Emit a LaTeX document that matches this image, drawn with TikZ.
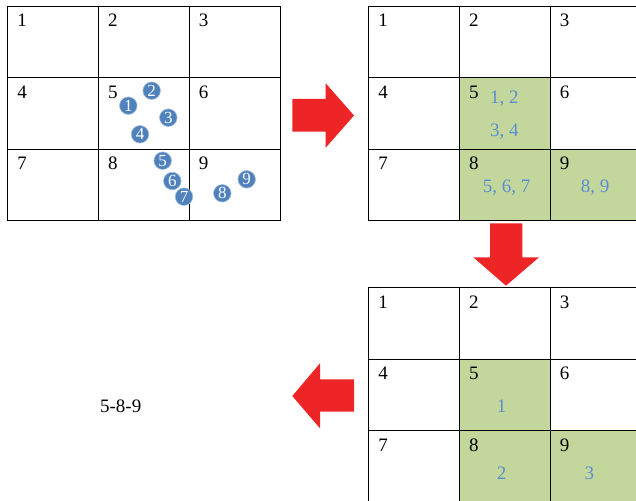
\documentclass[tikz,border=0pt]{standalone}
\usepackage{fontspec}
\setmainfont{Liberation Serif}
\definecolor{cellgreen}{HTML}{C3D69B}
\definecolor{markblue}{HTML}{4F81BD}
\definecolor{countblue}{HTML}{5A8FD2}
\definecolor{arrowred}{HTML}{EE2526}
\begin{document}
\begin{tikzpicture}[x=1pt, y=-1pt]
  \tikzstyle{cell}=[draw, line width=1pt, minimum width=90.8pt, minimum height=71.4pt,
                    inner sep=0pt, anchor=north west]
  \tikzstyle{cellnum}=[font=\fontsize{19}{19}\selectfont, inner sep=0pt]
  \tikzstyle{marker}=[circle, fill=markblue, draw=markblue!55!white, line width=0.6pt,
                      minimum size=17.5pt, inner sep=0pt, text=white,
                      font=\fontsize{17}{17}\selectfont]
  \tikzstyle{count}=[font=\fontsize{19}{19}\selectfont, text=countblue, inner sep=0pt]
  \tikzstyle{bigarrow}=[fill=arrowred]

  \useasboundingbox (0,0) rectangle (636,500);

  % Tres grades 3x3
  \foreach \g/\gx/\gy/\hl in {a/7.3/5.7/0, b/368.3/5.7/1, c/368.3/287.3/1}
    \foreach \r in {0,1,2}
      \foreach \c in {0,1,2} {
        \pgfmathtruncatemacro{\k}{3*\r+\c+1}
        \pgfmathtruncatemacro{\on}{\hl*((\k==5) || (\k==8) || (\k==9))}
        \ifnum\on=1 \def\cellfill{cellgreen}\else\def\cellfill{white}\fi
        \node[cell, fill=\cellfill] (\g\k) at (\gx+\c*90.8, \gy+\r*71.4) {};
        \node[cellnum] (\g\k n) at ([shift={(14.8,15)}]\g\k.north west) {\k};
      }

  % Pontos
  \foreach \n/\px/\py in {1/128.3/105.7, 2/151.7/90.7, 3/168.3/117.7, 4/140/134.3,
                          5/162.7/160.7, 6/172.3/181, 7/184/196.7, 8/222.3/193.3, 9/246.7/179.3}
    \node[marker] (m\n) at (\px,\py) {\n};

  % Contagens
  \node[count] (b5top) at (504.3,98.7) {1, 2};
  \node[count] (b5bot) at (504.3,131.7) {3, 4};
  \node[count] (b8pts) at (506.7,187.7) {5, 6, 7};
  \node[count] (b9pts) at (595,187.7) {8, 9};
  \node[count] (c5id) at (501.7,406.7) {1};
  \node[count] (c8id) at (501.7,473.3) {2};
  \node[count] (c9id) at (589.3,473.3) {3};

  % Setas
  \fill[bigarrow] (292.3,99) -- (325.7,99) -- (325.7,83.3) -- (354,115.5)
    -- (325.7,147.7) -- (325.7,131.7) -- (292.3,131.7) -- cycle;
  \fill[bigarrow] (490,223.3) -- (522.3,223.3) -- (522.3,257.3) -- (539,257.3)
    -- (506,285.7) -- (473.3,257.3) -- (490,257.3) -- cycle;
  \fill[bigarrow] (354,379.3) -- (320,379.3) -- (320,363.3) -- (292.3,396)
    -- (320,428.3) -- (320,411.7) -- (354,411.7) -- cycle;

  % Resultado
  \node[cellnum] (result) at (120.7,406) {5-8-9};
\end{tikzpicture}
\end{document}
